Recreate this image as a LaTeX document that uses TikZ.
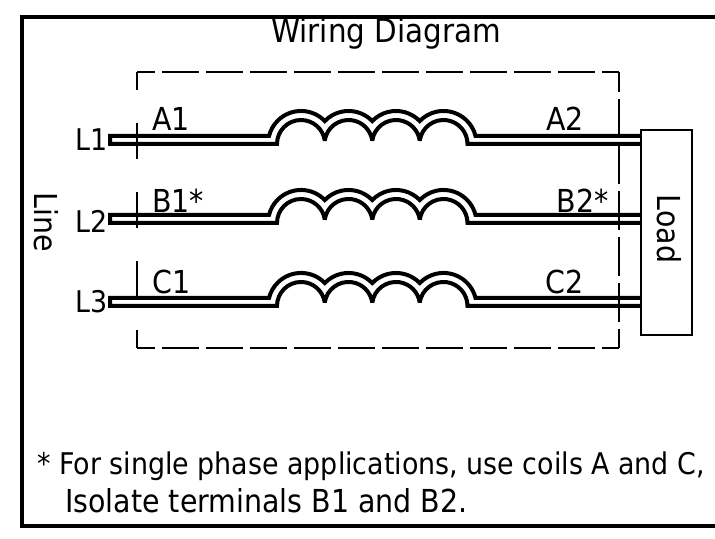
\documentclass[tikz,border=0pt]{standalone}
\usepackage{fontspec}
\setmainfont{DejaVu Sans Condensed}
\usepackage{tikz}

\tikzset{
  wire/.style={line width=0.08cm, line join=miter, miter limit=2},
  frameline/.style={line width=0.07cm, line cap=rect},
  boxline/.style={line width=0.04cm},
  boxh/.style={boxline, dash pattern=on .74cm off .14cm, dash phase=.38cm},
  boxl/.style={boxline, dash pattern=on .72cm off .66cm, dash phase=.36cm},
  boxr/.style={boxline, dash pattern=on .78cm off .14cm, dash phase=.38cm},
  lbl/.style={inner sep=0pt, anchor=base west, font=\fontsize{18}{20}\selectfont},
  lblr/.style={lbl, anchor=base east},
  phase/.style={lbl, font=\fontsize{17}{20}\selectfont},
  sidelbl/.style={inner sep=0pt, rotate=-90, font=\fontsize{18}{20}\selectfont}
}

% one double line with its coil, ending on the load box
\newcommand{\coilwire}{%
  \coordinate (wtop) at (0,402);
  \coordinate (wbot) at (0,394);
  \draw[wire] (load.west |- wtop) -- (475.5,402)
    arc[start angle=14, end angle=136, radius=33]
    arc[start angle=44, end angle=136, radius=33]
    arc[start angle=44, end angle=136, radius=33]
    arc[start angle=44, end angle=166, radius=33]
    -- (110,402) -- (110,394) -- (277,394)
    arc[start angle=180, end angle=8.3, radius=24]
    arc[start angle=171.7, end angle=8.3, radius=24]
    arc[start angle=171.7, end angle=8.3, radius=24]
    arc[start angle=171.7, end angle=0, radius=24]
    -- (load.west |- wbot);
}

\begin{document}
\begin{tikzpicture}[x=0.02cm, y=0.02cm]
\useasboundingbox (0,0) rectangle (715,538);

% --- Frame ---
\draw[frameline] (715,521) -- (22,521) -- (22,12) -- (715,12);
\node[lbl, anchor=base, font=\fontsize{18.6}{20}\selectfont] (title) at (386,495) {Wiring Diagram};

% --- Load ---
\node[draw, line width=0.04cm, minimum width=1.02cm, minimum height=4.1cm, inner sep=0pt] (load) at (666.5,305.5) {};
\node[sidelbl] (loadtext) at (669,309) {Load};

% --- Lines and coils ---
\begin{scope}
\coilwire
\end{scope}
\begin{scope}[yshift=-1.58cm]
\coilwire
\end{scope}
\begin{scope}[yshift=-3.24cm]
\coilwire
\end{scope}

% --- Dashed enclosure ---
\draw[boxh] (137,466) -- (619,466);
\draw[boxh] (137,190) -- (619,190);
\draw[boxl] (137,466) -- (137,190);
\draw[boxr] (619,466) -- (619,190);

% --- Labels ---
\node[phase] (l1) at (75,387) {L1};
\node[phase] (l2) at (75,306) {L2};
\node[phase] (l3) at (75,226) {L3};
\node[sidelbl] (line) at (46,316) {Line};
\node[lbl] (a1) at (152,407) {A1};
\node[lbl] (b1) at (152,326) {B1*};
\node[lbl] (c1) at (152,245) {C1};
\node[lblr] (a2) at (584,407) {A2};
\node[lblr] (b2) at (609,326) {B2*};
\node[lblr] (c2) at (584,245) {C2};

% --- Note ---
\node[phase] (note1) at (37,64) {* For single phase applications, use coils A and C,};
\node[lbl] (note2) at (65,26) {Isolate terminals B1 and B2.};
\end{tikzpicture}
\end{document}
